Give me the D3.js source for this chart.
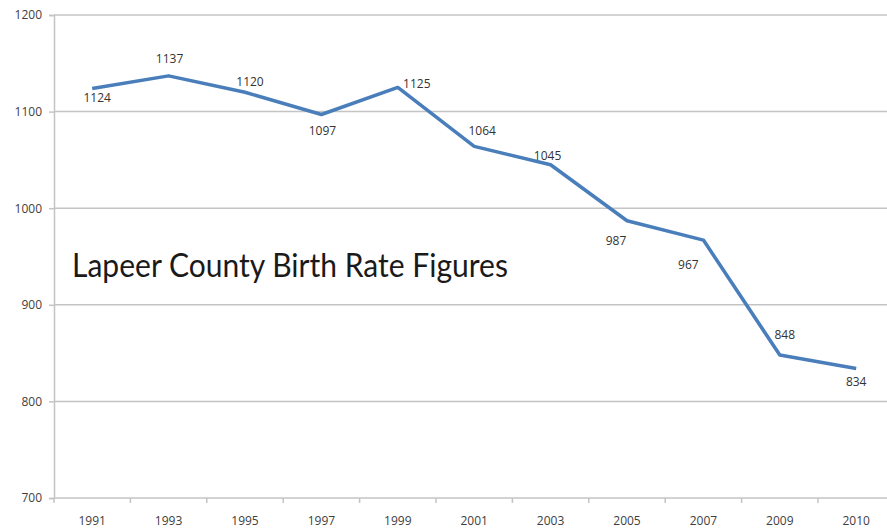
<!DOCTYPE html>
<html>
<head>
<meta charset="utf-8">
<script src="https://cdn.jsdelivr.net/npm/d3@7"></script>
<style>
  html, body { margin: 0; padding: 0; background: #fff; }
  svg { display: block; }
  .tick text { font-family: "Open Sans", "Liberation Sans", sans-serif; font-size: 12px; fill: #404040; }
  .pt-label { font-family: "Open Sans", "Liberation Sans", sans-serif; font-size: 12px; fill: #333; }
  .title { font-family: Lato, "Noto Sans", sans-serif; font-size: 32px; fill: #1a1a1a; }
</style>
</head>
<body>
<div id="chart"></div>
<script>
const years = ["1991", "1993", "1995", "1997", "1999", "2001", "2003", "2005", "2007", "2009", "2010"];
const births = [1124, 1137, 1120, 1097, 1125, 1064, 1045, 987, 967, 848, 834];
const yTicks = [700, 800, 900, 1000, 1100, 1200];
const chartTitle = "Lapeer County Birth Rate Figures";

// nudges for the value labels, relative to each point
const labelNudge = [
  [5, 9], [1, -17], [5, -10], [1, 16], [19, -4], [8, -16],
  [-3, -9], [-11, 20], [-15, 25], [5, -20], [0, 13],
];

const W = 887, H = 529;
const margin = { top: 15, right: 0, bottom: 31, left: 54 };
const innerH = H - margin.top - margin.bottom;
const innerW = 76.4 * years.length;

const svg = d3.select("#chart").append("svg")
  .attr("width", W).attr("height", H);

const g = svg.append("g")
  .attr("transform", `translate(${margin.left},${margin.top})`);

const x = d3.scaleBand().domain(years).range([0, innerW]).paddingInner(0).paddingOuter(0);
const y = d3.scaleLinear().domain([700, 1200]).range([innerH, 0]);

// gridlines
g.append("g")
  .selectAll("line")
  .data(yTicks.slice(1))
  .join("line")
  .attr("x1", 0).attr("x2", innerW)
  .attr("y1", d => y(d)).attr("y2", d => y(d))
  .attr("stroke", "#c4c4c4").attr("stroke-width", 1.5);

// y axis
const yAxis = g.append("g")
  .call(d3.axisLeft(y).tickValues(yTicks).tickSize(5).tickPadding(7).tickFormat(d3.format("d")));
yAxis.select(".domain").attr("stroke", "#c4c4c4").attr("stroke-width", 1.5);
yAxis.selectAll(".tick line").attr("stroke", "#c4c4c4").attr("stroke-width", 1.5);

// x axis with ticks between categories
const xAxisG = g.append("g").attr("transform", `translate(0,${innerH})`);
xAxisG.append("line")
  .attr("x1", 0).attr("x2", innerW)
  .attr("stroke", "#c4c4c4").attr("stroke-width", 1.5);
xAxisG.selectAll(".sep")
  .data(years)
  .join("line")
  .attr("class", "sep")
  .attr("x1", d => x(d)).attr("x2", d => x(d))
  .attr("y1", 0).attr("y2", 5)
  .attr("stroke", "#c4c4c4").attr("stroke-width", 1.5);
xAxisG.selectAll(".tick")
  .data(years)
  .join("g")
  .attr("class", "tick")
  .append("text")
  .attr("x", d => x(d) + x.bandwidth() / 2)
  .attr("y", 23)
  .attr("dy", "0.32em")
  .attr("text-anchor", "middle")
  .text(d => d);

// line
const pts = years.map((yr, i) => ({ yr, v: births[i], nudge: labelNudge[i] }));
const cx = d => x(d.yr) + x.bandwidth() / 2;

g.append("path")
  .datum(pts)
  .attr("fill", "none")
  .attr("stroke", "#4a7ebb")
  .attr("stroke-width", 3.5)
  .attr("stroke-linejoin", "round")
  .attr("d", d3.line().x(cx).y(d => y(d.v)));

g.selectAll(".pt-label")
  .data(pts)
  .join("text")
  .attr("class", "pt-label")
  .attr("x", d => cx(d) + d.nudge[0])
  .attr("y", d => y(d.v) + d.nudge[1])
  .attr("dy", "0.35em")
  .attr("text-anchor", "middle")
  .text(d => d.v);

// title overlay
svg.append("text")
  .attr("class", "title")
  .attr("x", 72)
  .attr("y", 277)
  .attr("textLength", 436)
  .attr("lengthAdjust", "spacingAndGlyphs")
  .text(chartTitle);
</script>
</body>
</html>
